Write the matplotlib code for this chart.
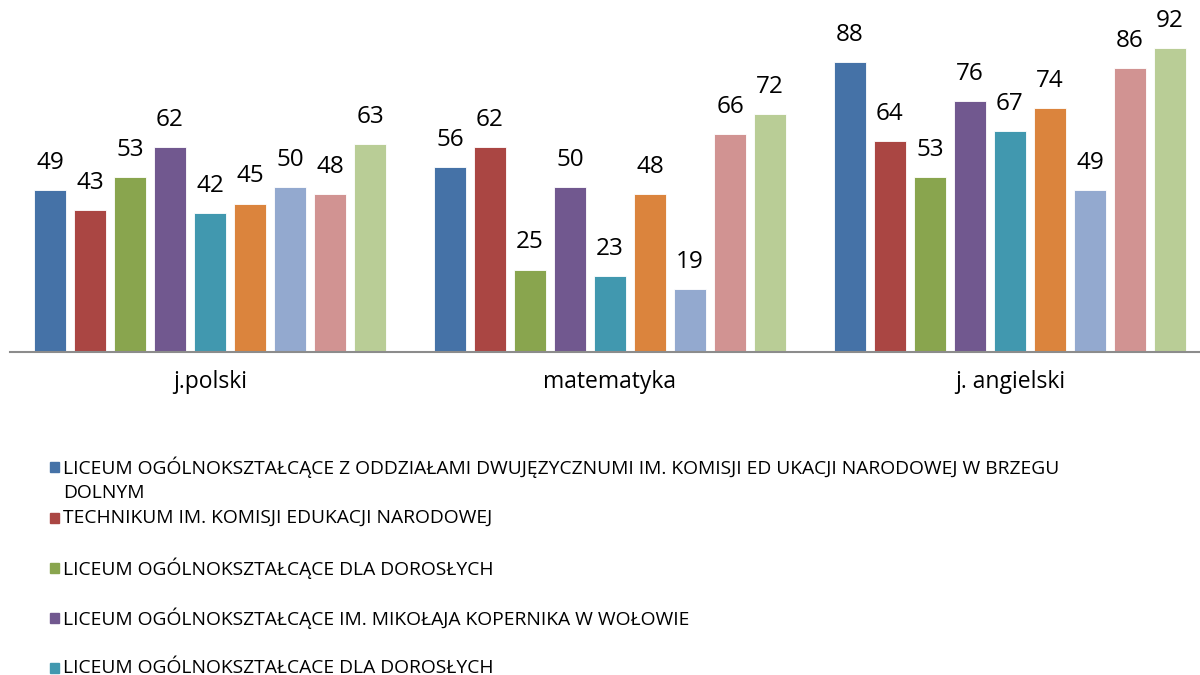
import matplotlib.pyplot as plt
from matplotlib.patches import Rectangle
import numpy as np

plt.rcParams['font.family'] = ['Open Sans', 'DejaVu Sans']

categories = ["j.polski", "matematyka", "j. angielski"]

series_values = [
    [49, 56, 88],
    [43, 62, 64],
    [53, 25, 53],
    [62, 50, 76],
    [42, 23, 67],
    [45, 48, 74],
    [50, 19, 49],
    [48, 66, 86],
    [63, 72, 92],
]

colors = ["#4572A7", "#AA4643", "#89A54E", "#71588F", "#4198AF",
          "#DB843D", "#93A9CF", "#D19392", "#B9CD96"]

legend_labels = [
    "LICEUM OGÓLNOKSZTAŁCĄCE Z ODDZIAŁAMI DWUJĘZYCZNUMI IM. KOMISJI ED UKACJI NARODOWEJ W BRZEGU\nDOLNYM",
    "TECHNIKUM IM. KOMISJI EDUKACJI NARODOWEJ",
    "LICEUM OGÓLNOKSZTAŁCĄCE DLA DOROSŁYCH",
    "LICEUM OGÓLNOKSZTAŁCĄCE IM. MIKOŁAJA KOPERNIKA W WOŁOWIE",
    "LICEUM OGÓLNOKSZTAŁCACE DLA DOROSŁYCH",
]

fig = plt.figure(figsize=(12, 6.75), dpi=100)
ax = fig.add_axes([10 / 1200, 323 / 675, 1190 / 1200, 330 / 675])

x = np.arange(len(categories))
n = len(series_values)
step = 0.1
width = 0.08
for i, vals in enumerate(series_values):
    pos = x + (i - (n - 1) / 2) * step
    bars = ax.bar(pos, vals, width, color=colors[i], edgecolor="white", linewidth=0.6)
    for b, v in zip(bars, vals):
        ax.annotate(str(v), (b.get_x() + b.get_width() / 2, v),
                    xytext=(0, 19.5), textcoords="offset points",
                    ha="center", va="center", fontsize=17.5,
                    color="black", annotation_clip=False)

ax.set_xlim(-0.5, 2.475)
ax.set_ylim(0, 100)
ax.set_xticks(x)
ax.set_xticklabels(categories, fontsize=16.5)
ax.tick_params(axis="x", length=0, pad=13)
ax.set_yticks([])
for s in ["top", "right", "left"]:
    ax.spines[s].set_visible(False)
ax.spines["bottom"].set_color("#8c8c8c")
ax.spines["bottom"].set_linewidth(1.5)

# legend drawn manually (partly cut off in the original)
row_y = [467, 518, 568, 618, 668]
for i, (lab, yy) in enumerate(zip(legend_labels, row_y)):
    yf = 1 - yy / 675
    fig.patches.append(Rectangle((50 / 1200, yf - 5 / 675), 9 / 1200, 10 / 675,
                                 transform=fig.transFigure, color=colors[i]))
    for k, line in enumerate(lab.split("\n")):
        fig.text(63 / 1200, yf - k * 26 / 675, line, fontsize=13.9, va="center",
                 transform=fig.transFigure)

fig.savefig("out.png", dpi=100)
